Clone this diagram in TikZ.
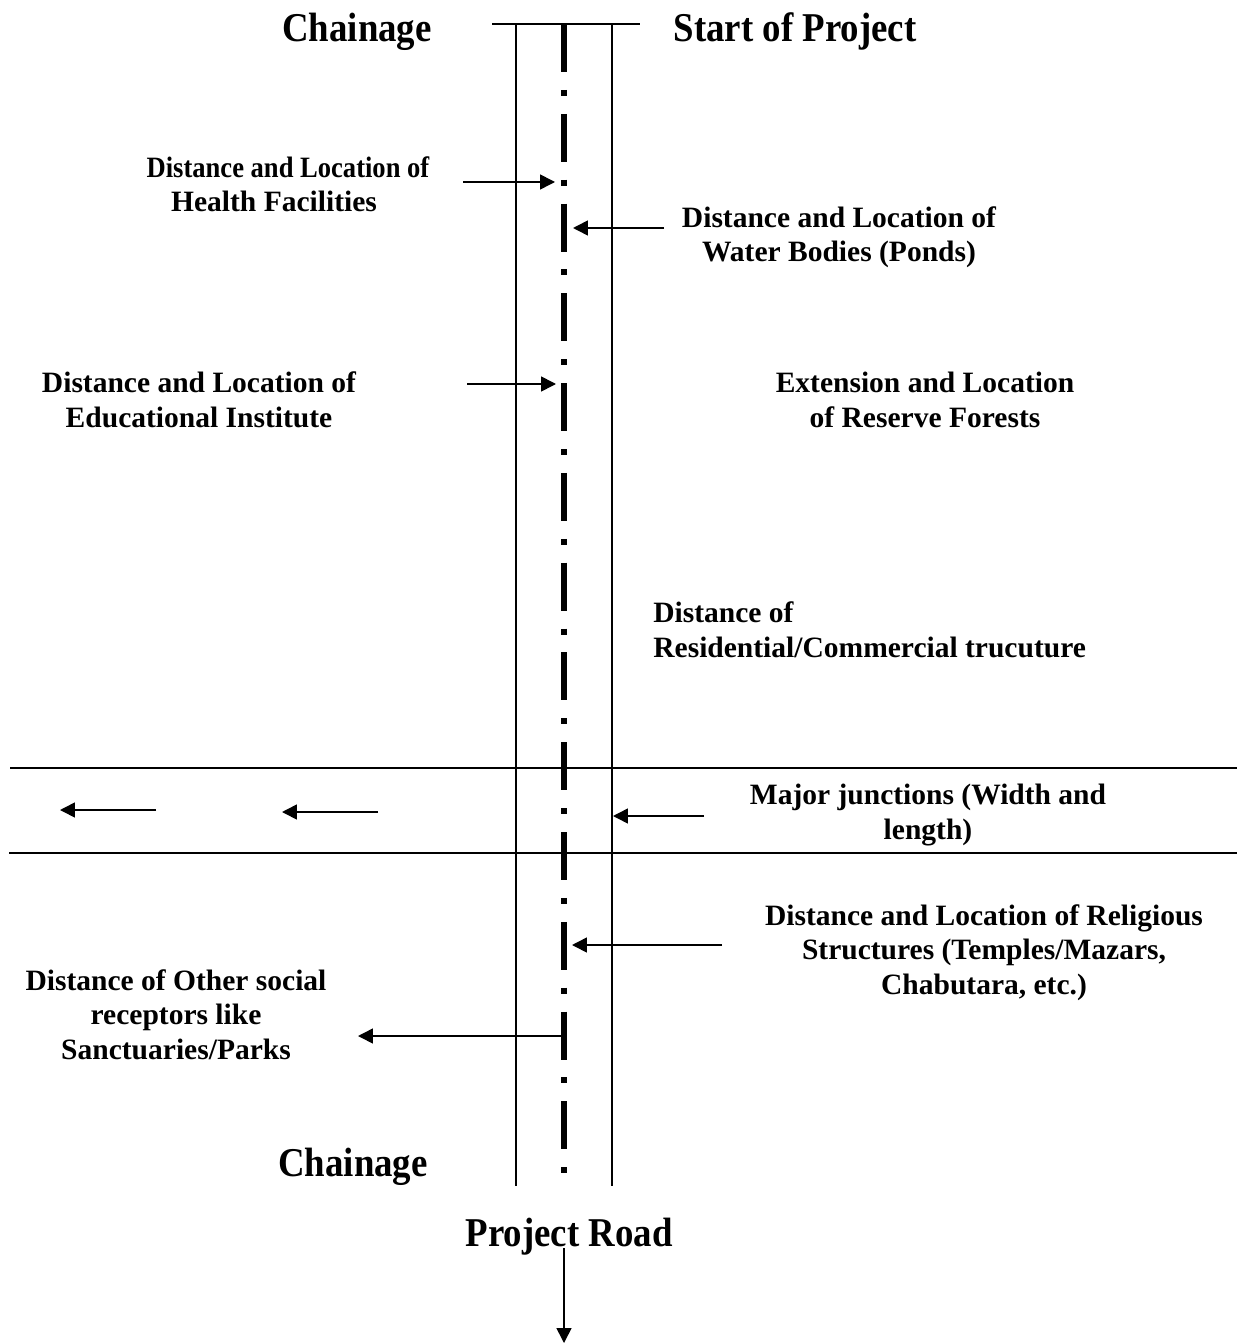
\documentclass[tikz,border=0pt]{standalone}
\usepackage{fontspec}
\setmainfont{Liberation Serif}
\newfontfamily\narrowserif{Liberation Serif}[FakeStretch=0.9]
\usetikzlibrary{arrows.meta}
\tikzset{
    sketch/.style={x=0.02cm, y=-0.02cm},
    sketch edge/.style={line width=1.1pt},
    sketch centre/.style={line width=3.4pt,
        dash pattern=on 27.3pt off 10.2pt on 3.4pt off 10.2pt},
    sketch arrow/.style={-{Triangle[length=8.5pt, width=8.5pt]}, line width=0.9pt},
    sketch title/.style={font=\narrowserif\fontsize{23.3}{28}\selectfont\bfseries,
        inner sep=0pt, anchor=base},
    sketch label/.style={font=\fontsize{16.8}{19.4}\selectfont\bfseries,
        align=center, inner sep=0pt, anchor=base},
}

\begin{document}
\begin{tikzpicture}[sketch]
  \useasboundingbox (0,0) rectangle (1237,1344);
  % road
  \coordinate (cap west) at (492,24);
  \coordinate (cap east) at (640,24);
  \coordinate (edge west top) at (516,24);
  \coordinate (edge west end) at (516,1186);
  \coordinate (edge east top) at (612,24);
  \coordinate (edge east end) at (612,1186);
  \coordinate (centre top) at (564,24);
  \coordinate (centre end) at (564,1176);
  \draw[sketch edge] (cap west) -- (cap east);
  \draw[sketch edge] (edge west top) -- (edge west end);
  \draw[sketch edge] (edge east top) -- (edge east end);
  \draw[sketch centre] (centre top) -- (centre end);
  % junction
  \coordinate (junc north west) at (10,768);
  \coordinate (junc north east) at (1237,768);
  \coordinate (junc south west) at (9,853);
  \coordinate (junc south east) at (1237,853);
  \draw[sketch edge] (junc north west) -- (junc north east);
  \draw[sketch edge] (junc south west) -- (junc south east);

  \node[sketch title] (chain top) at (357,42) {Chainage};
  \node[sketch title] (start) at (795,42) {Start of Project};
  \node[sketch title] (chain end) at (353,1176) {Chainage};
  \node[sketch title] (road) at (569,1246) {Project Road};

  \node[sketch label] (health) at (274,212) {\hspace*{0.56cm}{\narrowserif Distance and Location of}\\ Health Facilities};
  \node[sketch label] (water) at (839,262) {Distance and Location of\\ Water Bodies (Ponds)};
  \node[sketch label] (school) at (199,427) {Distance and Location of\\ Educational Institute};
  \node[sketch label] (forest) at (925,427) {Extension and Location\\ of Reserve Forests};
  \node[sketch label, align=left, anchor=base west] (housing) at (653,657) {Distance of\\ Residential/Commercial trucuture};
  \node[sketch label] (junction) at (928,839) {Major junctions (Width and\\ length)};
  \node[sketch label] (temple) at (984,994) {Distance and Location of Religious\\ Structures (Temples/Mazars,\\ Chabutara, etc.)};
  \node[sketch label] (park) at (176,1059) {Distance of Other social\\ receptors like\\ Sanctuaries/Parks};

  \coordinate (health tail) at (463,182);
  \coordinate (health tip) at (555,182);
  \coordinate (water tail) at (664,228);
  \coordinate (water tip) at (573,228);
  \coordinate (school tail) at (467,384);
  \coordinate (school tip) at (556,384);
  \coordinate (junction tail) at (704,816);
  \coordinate (junction tip) at (613,816);
  \coordinate (flow a tail) at (156,810);
  \coordinate (flow a tip) at (60,810);
  \coordinate (flow b tail) at (378,812);
  \coordinate (flow b tip) at (282,812);
  \coordinate (temple tail) at (722,945);
  \coordinate (temple tip) at (572,945);
  \coordinate (park tail) at (561,1036);
  \coordinate (park tip) at (358,1036);
  \coordinate (road tail) at (564,1248);
  \coordinate (road tip) at (564,1343);
  \draw[sketch arrow] (health tail) -- (health tip);
  \draw[sketch arrow] (water tail) -- (water tip);
  \draw[sketch arrow] (school tail) -- (school tip);
  \draw[sketch arrow] (junction tail) -- (junction tip);
  \draw[sketch arrow] (flow a tail) -- (flow a tip);
  \draw[sketch arrow] (flow b tail) -- (flow b tip);
  \draw[sketch arrow] (temple tail) -- (temple tip);
  \draw[sketch arrow] (park tail) -- (park tip);
  \draw[sketch arrow] (road tail) -- (road tip);
\end{tikzpicture}
\end{document}
